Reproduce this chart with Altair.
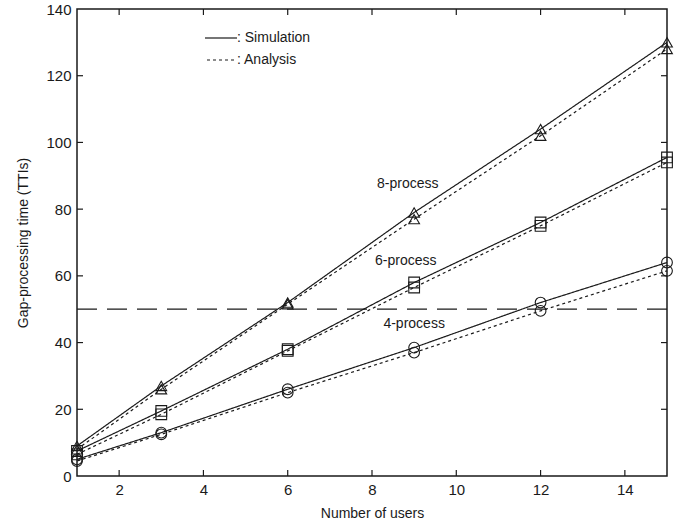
import altair as alt
import pandas as pd

users = [1, 3, 6, 9, 12, 15]
sim_8 = [9, 27, 52, 79, 104, 130]
ana_8 = [8, 26, 51.5, 77, 102, 128]
sim_6 = [7.5, 19.5, 38, 58, 76, 95.5]
ana_6 = [6.5, 18.5, 37.5, 56.5, 75, 94]
sim_4 = [5, 13, 26, 38.5, 52, 64]
ana_4 = [4.5, 12.5, 25, 37, 49.5, 61.5]
threshold = 50

label_text = ["8-process", "6-process", "4-process"]
label_x = [8.85, 8.8, 9.0]
label_y = [87.5, 64.5, 45.5]

x_ticks = [2, 4, 6, 8, 10, 12, 14]
y_ticks = [0, 20, 40, 60, 80, 100, 120, 140]

rows = []
for proc, sim, ana in [("8", sim_8, ana_8), ("6", sim_6, ana_6), ("4", sim_4, ana_4)]:
    for x, s, a in zip(users, sim, ana):
        rows.append({"x": x, "y": s, "proc": proc, "type": "Simulation", "series": proc + "S"})
        rows.append({"x": x, "y": a, "proc": proc, "type": "Analysis", "series": proc + "A"})
df = pd.DataFrame(rows)

W, H = 590, 467
FONT = "Liberation Sans"
INK = "#1a1a1a"

xs = alt.Scale(domain=[1, 15], nice=False, zero=False)
ys = alt.Scale(domain=[0, 140], nice=False)

base = alt.Chart(df)

lines = base.mark_line(color=INK, strokeWidth=1.2).encode(
    x=alt.X("x:Q", scale=xs, axis=alt.Axis(values=x_ticks, title="Number of users", tickSize=0,
                                            labelPadding=6, titlePadding=9, grid=False)),
    y=alt.Y("y:Q", scale=ys, axis=alt.Axis(values=y_ticks, title="Gap-processing time (TTIs)", tickSize=0,
                                            labelPadding=6, titlePadding=15, grid=False)),
    detail="series:N",
    strokeDash=alt.StrokeDash("type:N", scale=alt.Scale(domain=["Simulation", "Analysis"],
                                                         range=[[1, 0], [3, 3]]), legend=None),
)

points = base.mark_point(color=INK, filled=False, strokeWidth=1.1, size=115, opacity=1).encode(
    x=alt.X("x:Q", scale=xs),
    y=alt.Y("y:Q", scale=ys),
    shape=alt.Shape("proc:N", scale=alt.Scale(domain=["8", "6", "4"],
                                              range=["triangle-up", "square", "circle"]), legend=None),
)

thr = alt.Chart(pd.DataFrame({"y": [threshold]})).mark_rule(color=INK, strokeWidth=1.2, strokeDash=[20, 10]).encode(
    y=alt.Y("y:Q", scale=ys), x=alt.value(0), x2=alt.value(W)
)

labels = alt.Chart(pd.DataFrame({"t": label_text, "x": label_x, "y": label_y})).mark_text(
    font=FONT, fontSize=14, color=INK, align="center", baseline="middle"
).encode(x=alt.X("x:Q", scale=xs), y=alt.Y("y:Q", scale=ys), text="t:N")

tx = pd.DataFrame({"v": x_ticks})
ty = pd.DataFrame({"v": y_ticks[1:-1]})
tick_b = alt.Chart(tx).mark_rule(color=INK, strokeWidth=1.2).encode(x=alt.X("v:Q", scale=xs), y=alt.value(H), y2=alt.value(H - 6))
tick_t = alt.Chart(tx).mark_rule(color=INK, strokeWidth=1.2).encode(x=alt.X("v:Q", scale=xs), y=alt.value(0), y2=alt.value(6))
tick_l = alt.Chart(ty).mark_rule(color=INK, strokeWidth=1.2).encode(y=alt.Y("v:Q", scale=ys), x=alt.value(0), x2=alt.value(6))
tick_r = alt.Chart(ty).mark_rule(color=INK, strokeWidth=1.2).encode(y=alt.Y("v:Q", scale=ys), x=alt.value(W), x2=alt.value(W - 6))

leg_df = pd.DataFrame({"t": [": Simulation"]})
leg_df2 = pd.DataFrame({"t": [": Analysis"]})
leg_l1 = alt.Chart(leg_df).mark_rule(color=INK, strokeWidth=1.2).encode(x=alt.value(128), x2=alt.value(160), y=alt.value(29))
leg_l2 = alt.Chart(leg_df2).mark_rule(color=INK, strokeWidth=1.2, strokeDash=[3, 3]).encode(x=alt.value(130), x2=alt.value(159), y=alt.value(51))
leg_t1 = alt.Chart(leg_df).mark_text(font=FONT, fontSize=14, color=INK, align="left", baseline="middle").encode(
    x=alt.value(160), y=alt.value(29), text="t:N")
leg_t2 = alt.Chart(leg_df2).mark_text(font=FONT, fontSize=14, color=INK, align="left", baseline="middle").encode(
    x=alt.value(160), y=alt.value(51), text="t:N")

chart = alt.layer(thr, lines, points, labels, tick_b, tick_t, tick_l, tick_r,
                  leg_l1, leg_l2, leg_t1, leg_t2).properties(
    width=W, height=H,
    autosize=alt.AutoSizeParams(type="none"),
    padding={"left": 77, "top": 9, "right": 19, "bottom": 47},
    background="white",
).configure_view(stroke=INK, strokeWidth=1.5).configure_axis(
    domain=False, labelFont=FONT, titleFont=FONT, labelFontSize=15, titleFontSize=14,
    labelColor=INK, titleColor=INK, titleFontWeight="normal",
)

chart.save("out.html", embed_options={"renderer": "svg", "actions": False})
